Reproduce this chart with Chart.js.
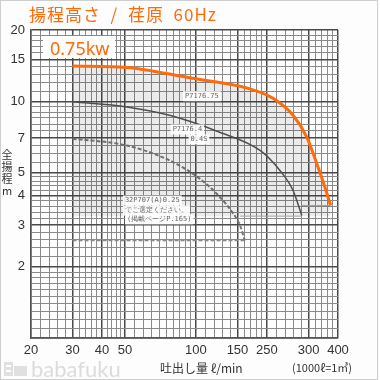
<!DOCTYPE html>
<html>
<head>
<meta charset="utf-8">
<script src="https://cdn.jsdelivr.net/npm/chart.js@4.4.1/dist/chart.umd.min.js"></script>
<style>
  html, body { margin: 0; padding: 0; background: #fff; }
  #wrap { width: 380px; height: 380px; position: relative; }
</style>
</head>
<body>
<div id="wrap"><canvas id="pump--chart" width="380" height="380"></canvas></div>
<script>
// pump curves (flow l/min, head m)
var orangeX = [30, 51, 97, 126, 165, 212, 258, 295, 325, 352, 372];
var orangeY = [14.1, 13.9, 12.5, 12.0, 11.36, 10.3, 8.73, 7.06, 5.46, 4.34, 3.63];

var grayX = [30, 51, 78, 126, 187, 227, 258, 281];
var grayY = [9.95, 9.46, 8.7, 7.4, 6.2, 5.1, 4.2, 3.29];

var dashX = [30, 51, 78, 104, 126, 144, 154, 161];
var dashY = [6.95, 6.5, 5.6, 4.7, 3.95, 3.35, 2.98, 2.58];

// region bottoms
var dashBaseX = [30, 161];
var dashBaseY = [2.58, 2.58];
var grayBaseX = [154, 281];
var grayBaseY = [3.27, 3.27];
var orangeBaseX = [281, 372];
var orangeBaseY = [3.63, 3.63];

// tick labels
var xLabelVals = [20, 30, 40, 50, 100, 150, 200, 300, 400];
var xLabelText = ['20', '30', '40', '50', '100', '150', '250', '300', '400'];
var yLabelVals = [2, 3, 4, 5, 7, 10, 15, 20];
var xMajor = [20, 30, 40, 50, 100, 150, 200, 300, 400];
var yMajor = [2, 3, 4, 5, 7, 10, 15, 20];

// model notes
var noteText = ['P7176.75', 'P7176.4', '0.4S', '32P707(A)0.25', 'でご選定ください。', '(掲載ページP.165)'];
var noteX = [106, 92, 103, 50, 50, 51];
var noteY = [10.5, 7.6, 6.9, 3.81, 3.45, 3.17];

function gridSteps(ranges) {
  var out = [];
  ranges.forEach(function (r) {
    for (var v = r[0]; v < r[1] - 1e-9; v += r[2]) out.push(Math.round(v * 100) / 100);
  });
  return out;
}
var xGrid = gridSteps([[20, 50, 2], [50, 100, 5], [100, 200, 10], [200, 400, 20]]);
xGrid.push(400);
var yGrid = gridSteps([[1, 2, 0.1], [2, 5, 0.2], [5, 10, 0.5], [10, 20, 1]]);
yGrid.push(20);

function pts(xs, ys) {
  return xs.map(function (x, i) { return { x: x, y: ys[i] }; });
}

var ORANGE = '#ff6a0a';
var FONT = "'Noto Sans CJK JP', 'Noto Sans', sans-serif";

var decorPlugin = {
  id: 'decor',
  beforeDraw: function (chart) {
    var c = chart.ctx;
    c.save();
    c.fillStyle = '#fdfdfd';
    c.fillRect(0, 0, 380, 380);
    c.strokeStyle = '#cfcfcf';
    c.lineWidth = 1;
    c.strokeRect(0.5, 0.5, 377, 379);
    c.restore();
  },
  afterDatasetsDraw: function (chart) {
    var c = chart.ctx;
    var xs = chart.scales.x, ys = chart.scales.y;
    c.save();
    c.font = "7px 'DejaVu Sans Mono', monospace";
    c.textBaseline = 'middle';
    noteText.forEach(function (t, i) {
      var px = xs.getPixelForValue(noteX[i]);
      var py = ys.getPixelForValue(noteY[i]);
      var centered = i < 3;
      var w = c.measureText(t).width;
      var left = centered ? px - w / 2 : px;
      c.fillStyle = 'rgba(255,255,255,0.9)';
      c.fillRect(left - 2, py - 5, w + 4, 10);
      c.fillStyle = '#666';
      c.textAlign = 'left';
      c.fillText(t, left, py);
    });

    // power label
    c.fillStyle = 'rgba(255,255,255,0.95)';
    c.fillRect(43, 36, 72, 22);
    c.fillStyle = ORANGE;
    c.font = "18px 'Noto Sans', sans-serif";
    c.textAlign = 'left';
    c.textBaseline = 'alphabetic';
    c.fillText('0.75kw', 50, 55);
    c.restore();
  },
  afterDraw: function (chart) {
    var c = chart.ctx;
    c.save();
    // title
    c.fillStyle = ORANGE;
    c.font = '17px ' + FONT;
    c.textAlign = 'left';
    c.textBaseline = 'alphabetic';
    c.letterSpacing = '1px';
    c.fillText('揚程高さ  /  荏原  60Hz', 29, 21);
    c.letterSpacing = '0px';

    // y title stacked
    c.fillStyle = '#333';
    c.font = '11px ' + FONT;
    c.textAlign = 'center';
    c.textBaseline = 'middle';
    ['全', '揚', '程', 'm'].forEach(function (ch, i) {
      c.fillText(ch, 7, 155 + i * 12);
    });

    // x title
    c.textAlign = 'left';
    c.font = '12px ' + FONT;
    c.fillText('吐出し量 ℓ/min', 160, 368);
    c.font = '11px ' + FONT;
    c.fillText('(1000ℓ=1㎥)', 292, 368);

    // watermark
    c.fillStyle = '#e0e0e0';
    c.fillRect(4, 362, 9, 14);
    c.fillRect(14, 366, 13, 10);
    c.fillStyle = '#fff';
    c.fillRect(6, 365, 5, 2);
    c.fillRect(6, 370, 5, 2);
    c.fillStyle = '#dcdcdc';
    c.font = "22px 'Lato', sans-serif";
    c.textBaseline = 'alphabetic';
    c.fillText('babafuku', 31, 377);
    c.restore();
  }
};

var ctx = document.getElementById('pump--chart');
var pumpChart = new Chart(ctx, {
  type: 'line',
  data: {
    datasets: [
      {
        data: pts(orangeX, orangeY),
        borderColor: ORANGE,
        borderWidth: 3,
        pointRadius: 0,
        cubicInterpolationMode: 'monotone',
        fill: { value: 3.27 },
        backgroundColor: 'rgba(0,0,0,0.07)'
      },
      {
        data: pts(grayX, grayY),
        borderColor: '#555',
        borderWidth: 1.5,
        pointRadius: 0,
        cubicInterpolationMode: 'monotone',
        fill: false
      },
      {
        data: pts(dashX, dashY),
        borderColor: '#777',
        borderWidth: 2,
        borderDash: [4, 2],
        pointRadius: 0,
        cubicInterpolationMode: 'monotone',
        fill: false
      },
      {
        data: pts(dashBaseX, dashBaseY),
        borderColor: '#888',
        borderWidth: 1.5,
        borderDash: [4, 2],
        pointRadius: 0,
        fill: false
      },
      {
        data: pts(grayBaseX, grayBaseY),
        borderColor: '#aaa',
        borderWidth: 1,
        pointRadius: 0,
        fill: false
      },
      {
        data: pts(orangeBaseX, orangeBaseY),
        borderColor: '#aaa',
        borderWidth: 1,
        pointRadius: 0,
        fill: false
      }
    ]
  },
  options: {
    responsive: false,
    animation: false,
    layout: { padding: { left: 0, top: 30, right: 42, bottom: 0 } },
    plugins: { legend: { display: false }, tooltip: { enabled: false } },
    scales: {
      x: {
        type: 'logarithmic',
        min: 20,
        max: 400,
        afterFit: function (s) { s.height = 42; },
        afterBuildTicks: function (s) {
          s.ticks = xGrid.map(function (v) { return { value: v }; });
        },
        ticks: {
          autoSkip: false,
          maxRotation: 0,
          padding: 5,
          color: '#333',
          font: { family: "'Liberation Sans', sans-serif", size: 13 },
          callback: function (v) {
            var i = xLabelVals.indexOf(v);
            return i >= 0 ? xLabelText[i] : '';
          }
        },
        grid: {
          drawTicks: false,
          color: function (c) { return xMajor.indexOf(c.tick && c.tick.value) >= 0 ? '#4a4a4a' : '#8a8a8a'; },
          lineWidth: function (c) { return xMajor.indexOf(c.tick && c.tick.value) >= 0 ? 1.5 : 1; }
        },
        border: { color: '#555', width: 1.5 }
      },
      y: {
        type: 'logarithmic',
        min: 1,
        max: 20,
        afterFit: function (s) { s.width = 31; },
        afterBuildTicks: function (s) {
          s.ticks = yGrid.map(function (v) { return { value: v }; });
        },
        ticks: {
          autoSkip: false,
          padding: 6,
          color: '#333',
          font: { family: "'Liberation Sans', sans-serif", size: 13 },
          callback: function (v) {
            return yLabelVals.indexOf(v) >= 0 ? String(v) : '';
          }
        },
        grid: {
          drawTicks: false,
          color: function (c) { return yMajor.indexOf(c.tick && c.tick.value) >= 0 ? '#4a4a4a' : '#8a8a8a'; },
          lineWidth: function (c) { return yMajor.indexOf(c.tick && c.tick.value) >= 0 ? 1.5 : 1; }
        },
        border: { color: '#555', width: 1.5 }
      }
    }
  },
  plugins: [decorPlugin]
});
</script>
</body>
</html>
